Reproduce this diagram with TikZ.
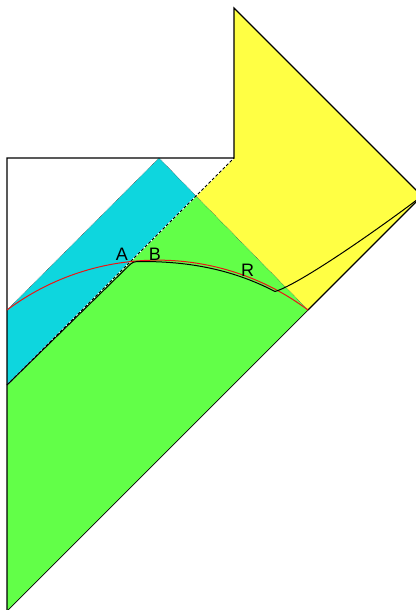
\documentclass[tikz,border=0pt]{standalone}
\usepackage{fontspec}
\setmainfont{Liberation Sans}
\usepackage{tikz}
\definecolor{horizon}{RGB}{255,255,68}
\definecolor{bulk}{RGB}{98,255,72}
\definecolor{island}{RGB}{14,214,222}
\definecolor{surface}{RGB}{235,20,20}
\begin{document}
\begin{tikzpicture}[x=1pt, y=-1pt,
		edge/.style={black, line width=1.1pt, line join=miter},
		thinedge/.style={black!75, line width=0.5pt, densely dotted},
		label/.style={font=\fontsize{18}{20}\selectfont, inner sep=0pt}]
	\useasboundingbox (0,0) rectangle (415,610);
	\coordinate (bl) at (7,611);
	\coordinate (lm) at (7,385);
	\coordinate (lr) at (7,310);
	\coordinate (tl) at (7,158);
	\coordinate (apex) at (159,158);
	\coordinate (tm) at (234,158);
	\coordinate (tt) at (234,8);
	\coordinate (rc) at (422,196);
	\coordinate (mid) at (196,196);
	\coordinate (rb) at (308,310);
	\coordinate (kink) at (275,291.5);
	\fill[horizon] (tt) -- (rc) -- (rb) -- (mid) -- (tm) -- cycle;
	\fill[bulk] (bl) -- (lm) -- (mid) -- (rb) -- cycle;
	\fill[island] (lm) -- (lr) -- (apex) -- (mid) -- cycle;
	\draw[thinedge] (lr) -- (apex) -- (mid) -- (rb);
	\draw[white, line width=0.8pt] (lm) -- (tm);
	\draw[black, line width=0.8pt, dash pattern=on 3pt off 2pt] (lm) -- (tm);
	\draw[edge] (bl) -- (tl) -- (tm) -- (tt) -- (rc) -- (rb);
	\draw[black, line width=0.7pt] (rb) -- (bl);
	\draw[surface, line width=1pt] (lr) .. controls (96,243.5) and (219,243.5) .. (rb);
	\draw[black, line width=1pt, line join=round] (lm) -- (127,267.5)
		.. controls (133,261.5) .. (142,261.5)
		.. controls (185,261.5) and (230,268) .. (kink)
		.. controls (300,284) and (380,228) .. (rc);
	\node[label] (A) at (122,254) {A};
	\node[label] (B) at (155,254) {B};
	\node[label] (R) at (247.5,270) {R};
\end{tikzpicture}
\end{document}
